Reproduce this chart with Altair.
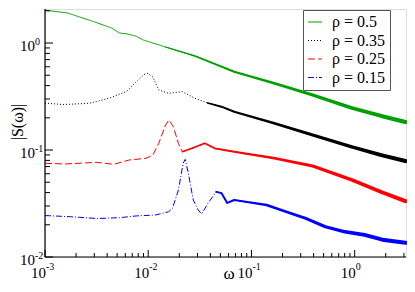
import altair as alt
import pandas as pd

# ---------------- data ----------------
labels = ["ρ = 0.5", "ρ = 0.35", "ρ = 0.25", "ρ = 0.15"]
colors = ["#00a000", "#000000", "#ff0000", "#0000ff"]
dashes = [[1, 0], [1, 2], [7, 3], [6, 2, 1, 2]]
noise_from = [0.012, 0.03, 0.02, 0.045]

w_05 = [0.001, 0.00165, 0.00299, 0.00443, 0.00527, 0.00614, 0.00764, 0.00891, 0.01472,
        0.0284, 0.0681, 0.163, 0.392, 0.938, 1.81, 3.1]
s_05 = [2.03, 1.91, 1.58, 1.38, 1.24, 1.22, 1.16, 1.07, 0.918,
        0.756, 0.539, 0.423, 0.327, 0.247, 0.208, 0.183]

w_035 = [0.001, 0.00148, 0.00267, 0.00414, 0.00614, 0.00798, 0.0091, 0.00993, 0.0111,
         0.01265, 0.01574, 0.0214, 0.0284, 0.0377, 0.0512, 0.0681, 0.163, 0.392, 0.938, 1.81, 3.1]
s_035 = [0.275, 0.266, 0.273, 0.304, 0.351, 0.451, 0.508, 0.521, 0.481,
         0.364, 0.339, 0.351, 0.304, 0.275, 0.254, 0.228, 0.179, 0.138, 0.107, 0.0897, 0.0789]

w_025 = [0.001, 0.00155, 0.00318, 0.00462, 0.00656, 0.00951, 0.0111, 0.01265, 0.01472, 0.01589,
         0.01754, 0.0196, 0.0214, 0.0266, 0.0353, 0.044, 0.0681, 0.163, 0.392, 0.938, 1.81, 3.1]
s_025 = [0.0752, 0.074, 0.0767, 0.0735, 0.0807, 0.0836, 0.0897, 0.1156, 0.171, 0.191,
         0.165, 0.1156, 0.0964, 0.1038, 0.1156, 0.1038, 0.0964, 0.0841, 0.0708, 0.0525, 0.0405, 0.0333]

w_015 = [0.001, 0.00177, 0.00318, 0.00527, 0.00764, 0.01183, 0.01574, 0.01718, 0.0196, 0.0218,
         0.0228, 0.0245, 0.0273, 0.0305, 0.0329, 0.0379, 0.0456, 0.0512, 0.0583, 0.0681,
         0.0847, 0.140, 0.217, 0.336, 0.520, 0.805, 1.247, 1.93, 3.1]
s_015 = [0.0244, 0.0238, 0.0229, 0.0233, 0.0242, 0.0247, 0.0265, 0.0285, 0.0423, 0.0752,
         0.0818, 0.0605, 0.0341, 0.0275, 0.0252, 0.0318, 0.0407, 0.0396, 0.0320, 0.0341,
         0.0330, 0.0306, 0.0265, 0.0230, 0.0192, 0.0172, 0.0161, 0.0144, 0.0136]

x_major = [0.001, 0.01, 0.1, 1.0]
x_exp = ["-3", "-2", "-1", "0"]
y_major = [0.01, 0.1, 1.0]
y_exp = ["-2", "-1", "0"]

series_w = [w_05, w_035, w_025, w_015]
series_s = [s_05, s_035, s_025, s_015]

# ---------------- tables ----------------
rows = []
for lab, ws, ss in zip(labels, series_w, series_s):
    for w, s in zip(ws, ss):
        rows.append({"series": lab, "omega": w, "S": s})
df = pd.DataFrame(rows)

x_minor = [k * d for d in [0.001, 0.01, 0.1] for k in range(2, 10)] + [2.0, 3.0]
y_minor = [k * d for d in [0.01, 0.1] for k in range(2, 10)] + [2.0]

W, H = 361, 248
xs = alt.Scale(type="log", domain=[0.001, 3.1416], nice=False)
ys = alt.Scale(type="log", domain=[0.01, 2.08], nice=False)
FONT = "Liberation Serif"

leg = alt.Legend(orient="none", legendX=258, legendY=1, title=None, symbolType="stroke",
                 symbolSize=196, symbolStrokeWidth=1.2, labelFont=FONT, labelFontSize=16,
                 labelColor="black", fillColor="white", strokeColor="#555", padding=4,
                 rowPadding=2.5, labelOffset=9, cornerRadius=0)

lines = alt.Chart(df).mark_line(strokeWidth=1).encode(
    x=alt.X("omega:Q", scale=xs, axis=None),
    y=alt.Y("S:Q", scale=ys, axis=None),
    color=alt.Color("series:N", scale=alt.Scale(domain=labels, range=colors), legend=leg),
    strokeDash=alt.StrokeDash("series:N", scale=alt.Scale(domain=labels, range=dashes), legend=leg),
)

trails = []
for lab, col, nf in zip(labels, colors, noise_from):
    sub = df[(df["series"] == lab) & (df["omega"] >= nf)]
    trails.append(
        alt.Chart(sub).mark_trail(color=col).encode(
            x=alt.X("omega:Q", scale=xs, axis=None),
            y=alt.Y("S:Q", scale=ys, axis=None),
            size=alt.Size("omega:Q", scale=alt.Scale(type="log", domain=[0.01, 3.1], range=[1.0, 4.2], clamp=True), legend=None),
        )
    )

xt_major = alt.Chart(pd.DataFrame({"t": x_major})).mark_rule(color="black").encode(
    x=alt.X("t:Q", scale=xs, axis=None), y=alt.value(H), y2=alt.value(H - 7))
xt_minor = alt.Chart(pd.DataFrame({"t": x_minor})).mark_rule(color="black").encode(
    x=alt.X("t:Q", scale=xs, axis=None), y=alt.value(H), y2=alt.value(H - 4))
yt_major = alt.Chart(pd.DataFrame({"t": y_major})).mark_rule(color="black").encode(
    y=alt.Y("t:Q", scale=ys, axis=None), x=alt.value(0), x2=alt.value(8))
yt_minor = alt.Chart(pd.DataFrame({"t": y_minor})).mark_rule(color="black").encode(
    y=alt.Y("t:Q", scale=ys, axis=None), x=alt.value(0), x2=alt.value(5))

one = pd.DataFrame({"a": [0]})
x_axis_line = alt.Chart(one).mark_rule(color="black", strokeWidth=1.2).encode(
    x=alt.value(0), x2=alt.value(W), y=alt.value(H))
y_axis_line = alt.Chart(one).mark_rule(color="black", strokeWidth=1.2).encode(
    x=alt.value(0), y=alt.value(0), y2=alt.value(H))

xl = pd.DataFrame({"v": x_major, "base": ["10"] * 4, "exp": x_exp})
yl = pd.DataFrame({"v": y_major, "base": ["10"] * 3, "exp": y_exp})

x_lab = alt.Chart(xl).mark_text(align="right", baseline="alphabetic", font=FONT, fontSize=15, dx=1, color="black").encode(
    x=alt.X("v:Q", scale=xs, axis=None), y=alt.value(H + 21), text="base:N")
x_sup = alt.Chart(xl).mark_text(align="left", baseline="alphabetic", font=FONT, fontSize=10, dx=1, color="black").encode(
    x=alt.X("v:Q", scale=xs, axis=None), y=alt.value(H + 13), text="exp:N")
y_lab = alt.Chart(yl).mark_text(align="right", baseline="alphabetic", font=FONT, fontSize=15, dy=8, color="black").encode(
    y=alt.Y("v:Q", scale=ys, axis=None), x=alt.value(-10), text="base:N")
y_sup = alt.Chart(yl).mark_text(align="left", baseline="alphabetic", font=FONT, fontSize=10, dy=2, color="black").encode(
    y=alt.Y("v:Q", scale=ys, axis=None), x=alt.value(-10), text="exp:N")

x_title = alt.Chart(one).mark_text(text="ω", font=FONT, fontSize=17, baseline="alphabetic", color="black").encode(
    x=alt.value(184), y=alt.value(H + 22))
y_title = alt.Chart(one).mark_text(text="|S(ω)|", font=FONT, fontSize=16, angle=270, baseline="middle", color="black").encode(
    x=alt.value(-27), y=alt.value(113))

chart = alt.layer(
    *trails, lines, xt_major, xt_minor, yt_major, yt_minor, x_axis_line, y_axis_line,
    x_lab, x_sup, y_lab, y_sup, x_title, y_title
).properties(
    width=W, height=H,
    autosize=alt.AutoSizeParams(type="none"),
    padding={"left": 37, "top": 1, "right": 1, "bottom": 26},
).configure_view(stroke="#777", strokeWidth=1).configure(background="white")

chart.save("out.html", embed_options={"renderer": "svg", "actions": False})
